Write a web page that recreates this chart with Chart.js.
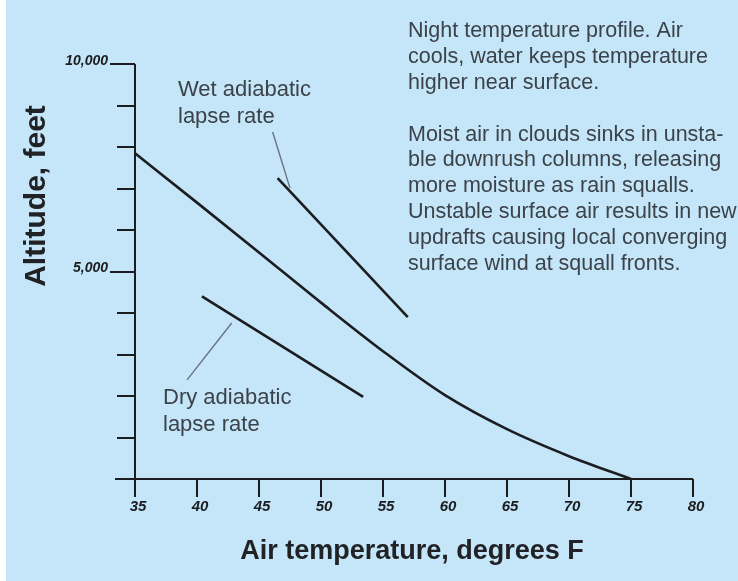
<!DOCTYPE html>
<html>
<head>
<meta charset="utf-8">
<title>Night temperature profile</title>
<script src="https://cdn.jsdelivr.net/npm/chart.js@4/dist/chart.umd.min.js"></script>
<style>
  html, body { margin:0; padding:0; background:#c5e6f8; }
  canvas { display:block; }
</style>
</head>
<body>
<canvas id="lapse" width="738" height="581"></canvas>
<script>
// temperature profile (deg F -> feet)
const profileTemps = [35, 40, 45, 50, 55, 60, 65, 70, 75];
const profileAlt   = [7850, 6660, 5460, 4250, 3080, 2020, 1200, 550, 0];

// reference lapse rate segments
const wetTemps = [46.5, 57];
const wetAlt   = [7250, 3900];
const dryTemps = [40.4, 53.4];
const dryAlt   = [4400, 1980];

// pointer lines from the labels to the segments
const wetPtrTemps = [46.1, 47.5];
const wetPtrAlt   = [8360, 7010];
const dryPtrTemps = [42.8, 39.2];
const dryPtrAlt   = [3760, 2390];

// axis ticks
const xTicks = [35, 40, 45, 50, 55, 60, 65, 70, 75, 80];
const yTicks = [0, 1000, 2000, 3000, 4000, 5000, 6000, 7000, 8000, 9000, 10000];
const yLabelVals = [10000, 5000];
const yLabelText = ["10,000", "5,000"];

const noteLines = [
  "Night temperature profile. Air",
  "cools, water keeps temperature",
  "higher near surface.",
  "",
  "Moist air in clouds sinks in unsta-",
  "ble downrush columns, releasing",
  "more moisture as rain squalls.",
  "Unstable surface air results in new",
  "updrafts causing local converging",
  "surface wind at squall fronts."
];

const BG = "#c5e6f8";
const INK = "#1b1d20";
const GREY_TXT = "#3b4249";

function pts(xs, ys){ return xs.map((x,i)=>({x, y: ys[i]})); }

const frame = {
  id: "frame",
  beforeDraw(chart){
    const c = chart.ctx;
    c.save();
    c.fillStyle = BG;
    c.fillRect(0, 0, chart.width, chart.height);
    c.fillStyle = "#ffffff";
    c.fillRect(0, 0, 6, chart.height);
    c.restore();
  },
  afterDraw(chart){
    const c = chart.ctx, xs = chart.scales.x, ys = chart.scales.y;
    const x0 = xs.getPixelForValue(35), x1 = xs.getPixelForValue(80);
    const y0 = ys.getPixelForValue(0), yTop = ys.getPixelForValue(10000);
    c.save();
    c.strokeStyle = INK; c.lineWidth = 2; c.lineCap = "butt";
    // axis lines
    c.beginPath();
    c.moveTo(x0, yTop); c.lineTo(x0, y0 + 18);
    c.moveTo(x0 - 20, y0); c.lineTo(x1, y0);
    c.stroke();
    // y ticks point left
    yTicks.forEach(v=>{
      const py = Math.round(ys.getPixelForValue(v));
      const len = yLabelVals.includes(v) ? 25 : 18;
      c.beginPath(); c.moveTo(x0 - len, py); c.lineTo(x0, py); c.stroke();
    });
    // x ticks point down
    xTicks.forEach(v=>{
      const px = Math.round(xs.getPixelForValue(v));
      c.beginPath(); c.moveTo(px, y0); c.lineTo(px, y0 + 18); c.stroke();
    });
    // tick labels
    c.fillStyle = INK;
    c.font = "italic bold 15px 'Liberation Sans', Arial, sans-serif";
    c.textAlign = "center"; c.textBaseline = "middle";
    xTicks.forEach(v=> c.fillText(String(v), xs.getPixelForValue(v) + 3, y0 + 28));
    c.font = "italic bold 14px 'Liberation Sans', Arial, sans-serif";
    c.textAlign = "right";
    yLabelVals.forEach((v,i)=> c.fillText(yLabelText[i], x0 - 27, ys.getPixelForValue(v) - 3));
    // axis titles
    c.font = "bold 27px 'Liberation Sans', Arial, sans-serif";
    c.textAlign = "center"; c.fillStyle = "#202226";
    c.fillText("Air temperature, degrees F", (x0 + x1) / 2 - 2, 552);
    c.save();
    c.font = "bold 30px 'Liberation Sans', Arial, sans-serif";
    c.translate(37, 196); c.rotate(-Math.PI / 2);
    c.fillText("Altitude, feet", 0, 0);
    c.restore();
    // segment labels
    c.fillStyle = GREY_TXT;
    c.font = "22px 'Liberation Sans', Arial, sans-serif";
    c.textAlign = "left";
    c.fillText("Wet adiabatic", 178, 90);
    c.fillText("lapse rate", 178, 117);
    c.fillText("Dry adiabatic", 163, 398);
    c.fillText("lapse rate", 163, 425);
    // notes block
    c.font = "21.5px 'Liberation Sans', Arial, sans-serif";
    noteLines.forEach((t,i)=>{ if(t) c.fillText(t, 408, 31 + i * 25.9); });
    c.restore();
  }
};

const lineSet = (data, color, width, extra) => Object.assign({
  data, showLine: true, borderColor: color, borderWidth: width,
  pointRadius: 0, fill: false, clip: false
}, extra || {});

new Chart(document.getElementById("lapse"), {
  type: "scatter",
  data: {
    datasets: [
      lineSet(pts(profileTemps, profileAlt), INK, 2.6, { cubicInterpolationMode: "monotone" }),
      lineSet(pts(wetTemps, wetAlt), INK, 2.6),
      lineSet(pts(dryTemps, dryAlt), INK, 2.6),
      lineSet(pts(wetPtrTemps, wetPtrAlt), "#68737d", 1.4),
      lineSet(pts(dryPtrTemps, dryPtrAlt), "#68737d", 1.4)
    ]
  },
  options: {
    responsive: false,
    animation: false,
    events: [],
    layout: { padding: { left: 135, right: 45, top: 64, bottom: 102 } },
    plugins: { legend: { display: false }, tooltip: { enabled: false } },
    scales: {
      x: { type: "linear", min: 35, max: 80, display: false },
      y: { type: "linear", min: 0, max: 10000, display: false }
    }
  },
  plugins: [frame]
});
</script>
</body>
</html>
